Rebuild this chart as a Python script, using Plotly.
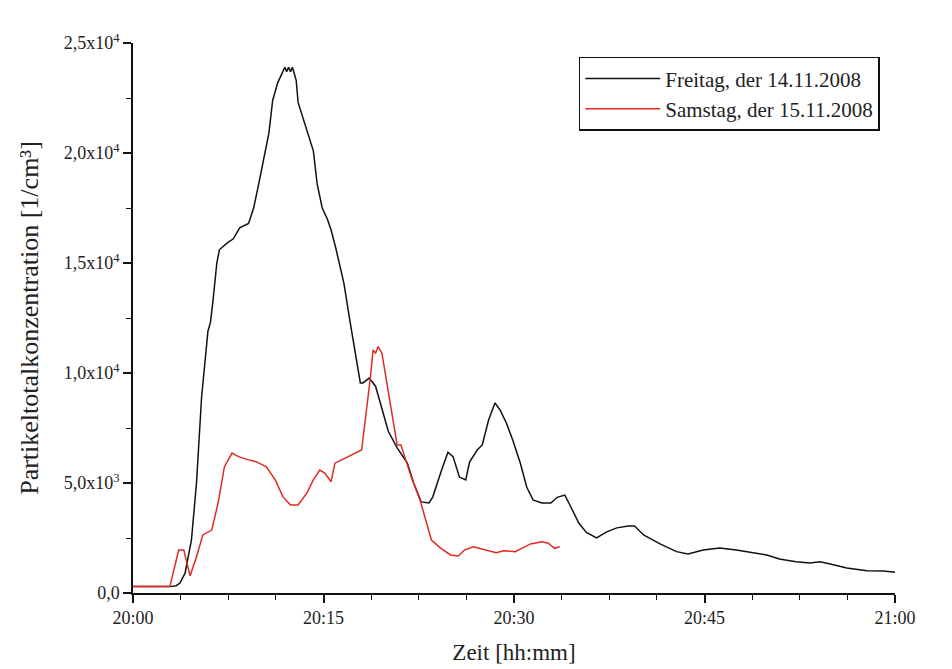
import plotly.graph_objects as go

# minutes after 20:00
fr_t = [0, 2.9, 3.4, 3.7, 4.1, 4.6, 5.0, 5.4, 5.9, 6.1, 6.3, 6.6, 6.8, 7.4, 7.9, 8.4, 9.1,
        9.5, 9.9, 10.3, 10.7, 11.0, 11.4, 11.8, 11.95, 12.1, 12.25, 12.4, 12.55, 12.7, 12.85,
        13.0, 13.4, 13.9, 14.2, 14.5, 14.9, 15.3, 15.6, 16.0, 16.6, 17.1, 17.5, 17.9, 18.1,
        18.6, 19.1, 19.6, 20.1, 20.8, 21.6, 22.1, 22.7, 23.3, 23.6, 24.3, 24.8, 25.2, 25.7,
        26.2, 26.5, 27.1, 27.5, 28.0, 28.5, 28.9, 29.4, 29.9, 30.5, 31.0, 31.5, 32.2, 32.9,
        33.4, 34.0, 34.4, 35.1, 35.7, 36.5, 37.3, 38.1, 39.0, 39.5, 40.2, 41.5, 42.8, 43.7,
        44.9, 46.2, 47.5, 48.8, 49.9, 50.9, 52.2, 53.3, 54.1, 54.9, 56.2, 57.8, 59.1, 60.0]
fr_v = [290, 290, 330, 450, 900, 2400, 5000, 8900, 11900, 12300, 13300, 15000, 15600, 15900,
        16100, 16600, 16800, 17500, 18600, 19800, 20900, 22400, 23200, 23700, 23900, 23700,
        23900, 23700, 23900, 23600, 23300, 22300, 21600, 20700, 20100, 18600, 17500, 17000,
        16500, 15600, 14100, 12300, 11000, 9550, 9550, 9770, 9400, 8400, 7350, 6600, 5900,
        5000, 4140, 4090, 4360, 5590, 6400, 6200, 5270, 5140, 5950, 6500, 6730, 7860, 8640,
        8320, 7730, 6950, 5900, 4820, 4230, 4090, 4090, 4350, 4450, 4000, 3180, 2750, 2500,
        2780, 2960, 3050, 3050, 2640, 2230, 1880, 1770, 1950, 2050, 1950, 1820, 1730, 1550,
        1420, 1360, 1420, 1320, 1140, 1010, 1000, 940]

sa_t = [0, 2.9, 3.6, 4.0, 4.5, 5.0, 5.5, 6.2, 6.7, 7.2, 7.8, 8.3, 9.1, 9.7, 10.5, 11.2, 11.8,
        12.4, 13.0, 13.7, 14.2, 14.7, 15.1, 15.6, 15.9, 16.4, 17.2, 18.0, 18.7, 18.9, 19.1,
        19.3, 19.6, 20.0, 20.4, 20.8, 21.1, 21.4, 21.9, 22.6, 23.1, 23.5, 24.2, 25.0, 25.6,
        26.1, 26.8, 27.6, 28.6, 29.2, 30.1, 30.6, 31.3, 32.2, 32.7, 33.2, 33.6]
sa_v = [290, 290, 1950, 1950, 780, 1650, 2640, 2860, 4090, 5740, 6360, 6200, 6050, 5970,
        5740, 5140, 4380, 4000, 4000, 4550, 5140, 5590, 5450, 5060, 5900, 6050, 6270, 6500,
        9830, 11050, 10900, 11200, 10900, 9550, 8000, 6730, 6730, 6200, 5290, 4230, 3250,
        2410, 2050, 1730, 1680, 1950, 2100, 1990, 1830, 1920, 1880, 2030, 2230, 2330, 2260,
        2030, 2100]

x_tickvals = [0, 15, 30, 45, 60]
x_ticktext = ["20:00", "20:15", "20:30", "20:45", "21:00"]
y_tickvals = [0, 5000, 10000, 15000, 20000, 25000]
y_ticktext = ["0,0", "5,0x10<sup>3</sup>", "1,0x10<sup>4</sup>", "1,5x10<sup>4</sup>",
              "2,0x10<sup>4</sup>", "2,5x10<sup>4</sup>"]

fig = go.Figure()
fig.add_trace(go.Scatter(x=fr_t, y=fr_v, mode="lines", name="Freitag, der 14.11.2008",
                         line=dict(color="#111111", width=1.5)))
fig.add_trace(go.Scatter(x=sa_t, y=sa_v, mode="lines", name="Samstag, der 15.11.2008",
                         line=dict(color="#e02a22", width=1.5)))

font = "Liberation Serif, Times New Roman, serif"
fig.update_layout(
    width=952, height=669,
    margin=dict(l=125, r=65, t=35, b=84),
    paper_bgcolor="white", plot_bgcolor="white",
    font=dict(family=font, color="#222222", size=18),
    legend=dict(x=0.98, y=0.975, xanchor="right", yanchor="top",
                bordercolor="#111111", borderwidth=1.5, bgcolor="white",
                font=dict(family=font, size=21, color="#222222"),
                tracegroupgap=0, itemwidth=75),
    xaxis=dict(range=[0, 60], tickvals=x_tickvals, ticktext=x_ticktext,
               showgrid=False, zeroline=False, showline=True, linecolor="#111111",
               linewidth=1.5, ticks="outside", ticklen=8, tickwidth=1.5, tickcolor="#111111",
               tickfont=dict(size=18),
               minor=dict(dtick=3.75, tick0=0, ticks="outside", ticklen=5,
                          tickwidth=1.2, tickcolor="#111111", showgrid=False),
               title=dict(text="Zeit [hh:mm]", font=dict(size=23), standoff=17)),
    yaxis=dict(range=[0, 25000], tickvals=y_tickvals, ticktext=y_ticktext,
               showgrid=False, zeroline=False, showline=True, linecolor="#111111",
               linewidth=1.5, ticks="outside", ticklen=8, tickwidth=1.5, tickcolor="#111111",
               tickfont=dict(size=18),
               minor=dict(dtick=2500, tick0=0, ticks="outside", ticklen=5,
                          tickwidth=1.2, tickcolor="#111111", showgrid=False),
               title=dict(text="Partikeltotalkonzentration [1/cm³]", font=dict(size=26),
                          standoff=18)),
)

fig.write_html("out.html")
